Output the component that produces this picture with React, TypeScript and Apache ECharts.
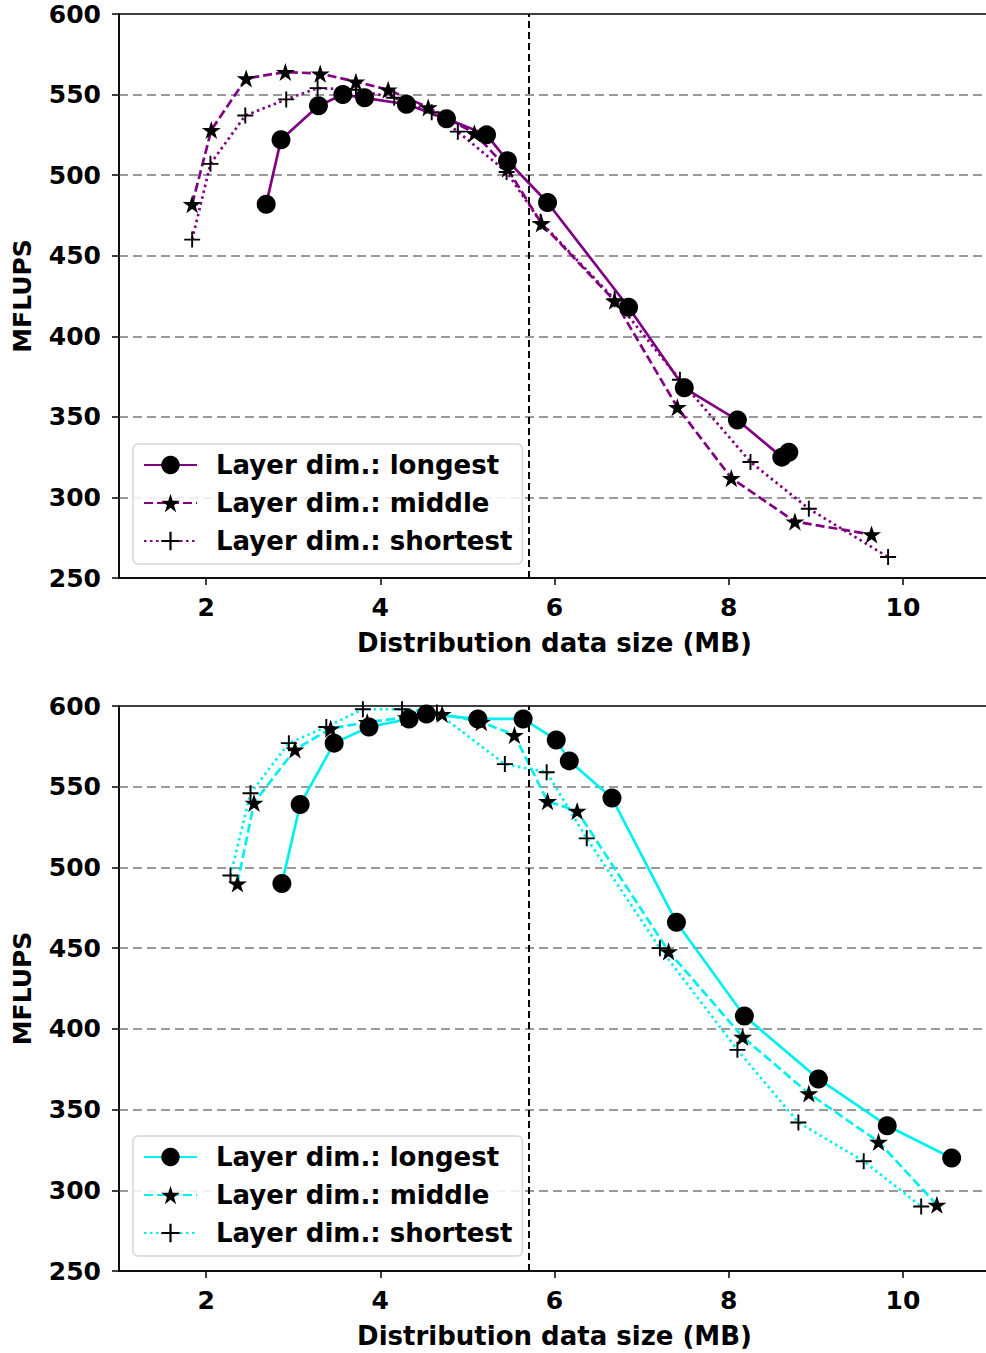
import React, { useEffect, useRef } from 'react';
import * as echarts from 'echarts';

const xTickValues = [2, 4, 6, 8, 10];
const thresholdMB = 5.7;
const seriesLabels = ['Layer dim.: longest', 'Layer dim.: middle', 'Layer dim.: shortest'];

// Top panel (purple)
const topLongestX = [2.69, 2.86, 3.29, 3.57, 3.82, 4.30, 4.76, 5.22, 5.46, 5.92, 6.85, 7.49, 8.10, 8.61, 8.69];
const topLongestY = [482, 522, 543, 550, 548, 544, 535, 525, 509, 483, 418, 368, 348, 325, 328];
const topMiddleX = [1.84, 2.06, 2.46, 2.91, 3.31, 3.72, 4.09, 4.55, 5.08, 5.46, 5.85, 6.69, 7.41, 8.03, 8.76, 9.64];
const topMiddleY = [482, 528, 560, 564, 563, 558, 553, 542, 526, 504, 470, 422, 356, 312, 285, 277];
const topShortestX = [1.84, 2.05, 2.45, 2.92, 3.28, 3.72, 4.16, 4.59, 4.89, 5.45, 5.84, 6.69, 7.44, 8.25, 8.92, 9.83];
const topShortestY = [460, 507, 537, 547, 554, 553, 548, 539, 527, 502, 471, 423, 373, 322, 293, 263];

// Bottom panel (cyan)
const botLongestX = [2.87, 3.08, 3.47, 3.87, 4.33, 4.53, 5.12, 5.64, 6.02, 6.17, 6.66, 7.40, 8.18, 9.03, 9.82, 10.56];
const botLongestY = [490, 539, 577, 587, 592, 595, 592, 592, 579, 566, 543, 466, 408, 369, 340, 320];
const botMiddleX = [2.36, 2.55, 3.02, 3.43, 3.85, 4.30, 4.71, 5.16, 5.54, 5.92, 6.26, 7.31, 8.16, 8.92, 9.72, 10.39];
const botMiddleY = [490, 540, 573, 586, 590, 593, 595, 590, 582, 541, 535, 448, 395, 360, 330, 291];
const botShortestX = [2.28, 2.51, 2.95, 3.38, 3.80, 4.25, 4.65, 5.43, 5.91, 6.37, 7.21, 8.10, 8.80, 9.55, 10.21];
const botShortestY = [495, 546, 577, 587, 598, 598, 596, 564, 559, 518, 450, 387, 342, 318, 290];

const FONT = 'DejaVu Sans';
const STAR = 'path://M0,-1 L0.2245,-0.309 L0.951,-0.309 L0.3633,0.118 L0.588,0.809 L0,0.382 L-0.588,0.809 L-0.3633,0.118 L-0.951,-0.309 L-0.2245,-0.309 Z';
const PLUS = 'path://M-0.12,-1 L0.12,-1 L0.12,-0.12 L1,-0.12 L1,0.12 L0.12,0.12 L0.12,1 L-0.12,1 L-0.12,0.12 L-1,0.12 L-1,-0.12 L-0.12,-0.12 Z';

const zip = (xs: number[], ys: number[]) => xs.map((x, i) => [x, ys[i]]);

function mkSeries(name: string, xs: number[], ys: number[], color: string, dash: any, symbol: string, size: number, idx: number, extra: any = {}) {
  return {
    type: 'line',
    name,
    xAxisIndex: idx,
    yAxisIndex: idx,
    data: zip(xs, ys),
    symbol,
    symbolSize: size,
    symbolKeepAspect: true,
    lineStyle: { color, width: 2.7, type: dash },
    itemStyle: { color: '#000' },
    emphasis: { disabled: true },
    ...extra,
  };
}

const markLine = {
  silent: true,
  symbol: ['none', 'none'],
  label: { show: false },
  lineStyle: { color: '#000', type: [7, 4], width: 2 },
  data: [{ xAxis: thresholdMB }],
};

function mkX(idx: number) {
  return {
    type: 'value',
    gridIndex: idx,
    min: 1,
    max: 11,
    name: 'Distribution data size (MB)',
    nameLocation: 'middle',
    nameGap: 52,
    nameTextStyle: { fontFamily: FONT, fontWeight: 'bold', fontSize: 26, color: '#000' },
    axisLine: { show: true, onZero: false, lineStyle: { color: '#000', width: 1.5 } },
    axisTick: { show: true, length: 7, customValues: xTickValues, lineStyle: { color: '#000', width: 1.5 } },
    axisLabel: { customValues: xTickValues, margin: 17, fontFamily: FONT, fontWeight: 'bold', fontSize: 25, color: '#000' },
    splitLine: { show: false },
  };
}

function mkY(idx: number) {
  return {
    type: 'value',
    gridIndex: idx,
    min: 250,
    max: 600,
    interval: 50,
    name: 'MFLUPS',
    nameLocation: 'middle',
    nameGap: 84,
    nameTextStyle: { fontFamily: FONT, fontWeight: 'bold', fontSize: 25, color: '#000' },
    axisLine: { show: true, lineStyle: { color: '#000', width: 1.5 } },
    axisTick: { show: true, length: 7, lineStyle: { color: '#000', width: 1.5 } },
    axisLabel: { margin: 18, fontFamily: FONT, fontWeight: 'bold', fontSize: 25, color: '#000' },
    splitLine: { show: true, showMinLine: false, showMaxLine: false, lineStyle: { color: '#9a9a9a', width: 2, type: [9, 5] } },
  };
}

function mkLegend(idx: number, top: number, prefix: string) {
  return {
    orient: 'vertical',
    left: 133,
    top,
    data: seriesLabels.map((s) => prefix + s),
    formatter: (n: string) => n.replace(prefix, ''),
    itemWidth: 53,
    itemHeight: 23,
    itemGap: 12,
    padding: [8, 10, 10, 10],
    backgroundColor: 'rgba(255,255,255,0.85)',
    borderColor: '#d6d6d6',
    borderWidth: 1.5,
    borderRadius: 5,
    selectedMode: false,
    textStyle: { fontFamily: FONT, fontWeight: 'bold', fontSize: 26, color: '#000', lineHeight: 23, padding: [0, 0, 0, 14] },
  };
}

const PURPLE = '#800080';
const CYAN = '#00f0f0';
const BP = 'B ';

const option: any = {
  animation: false,
  backgroundColor: '#fff',
  grid: [
    { left: 119, right: 10, top: 14, height: 564, show: true, borderColor: '#000', borderWidth: 1.5, backgroundColor: 'transparent' },
    { left: 119, right: 10, top: 706, height: 565, show: true, borderColor: '#000', borderWidth: 1.5, backgroundColor: 'transparent' },
  ],
  xAxis: [mkX(0), mkX(1)],
  yAxis: [mkY(0), mkY(1)],
  legend: [mkLegend(0, 444, ''), mkLegend(1, 1136, BP)],
  series: [
    mkSeries(seriesLabels[0], topLongestX, topLongestY, PURPLE, 'solid', 'circle', 19, 0, { markLine }),
    mkSeries(seriesLabels[1], topMiddleX, topMiddleY, PURPLE, [9, 4], STAR, 19, 0),
    mkSeries(seriesLabels[2], topShortestX, topShortestY, PURPLE, [2.5, 3.5], PLUS, 16, 0),
    mkSeries(BP + seriesLabels[0], botLongestX, botLongestY, CYAN, 'solid', 'circle', 19, 1, { markLine }),
    mkSeries(BP + seriesLabels[1], botMiddleX, botMiddleY, CYAN, [9, 4], STAR, 19, 1),
    mkSeries(BP + seriesLabels[2], botShortestX, botShortestY, CYAN, [2.5, 3.5], PLUS, 16, 1),
  ],
};

export default function App() {
  const ref = useRef<HTMLDivElement>(null);
  useEffect(() => {
    const chart = echarts.init(ref.current!, null, { renderer: 'svg' });
    chart.setOption(option);
    return () => chart.dispose();
  }, []);
  return (
    <div style={{ position: 'fixed', left: 0, top: 0, width: 986, height: 1353, overflow: 'hidden', background: '#fff' }}>
      <div ref={ref} style={{ width: 1000, height: 1353 }} />
    </div>
  );
}
